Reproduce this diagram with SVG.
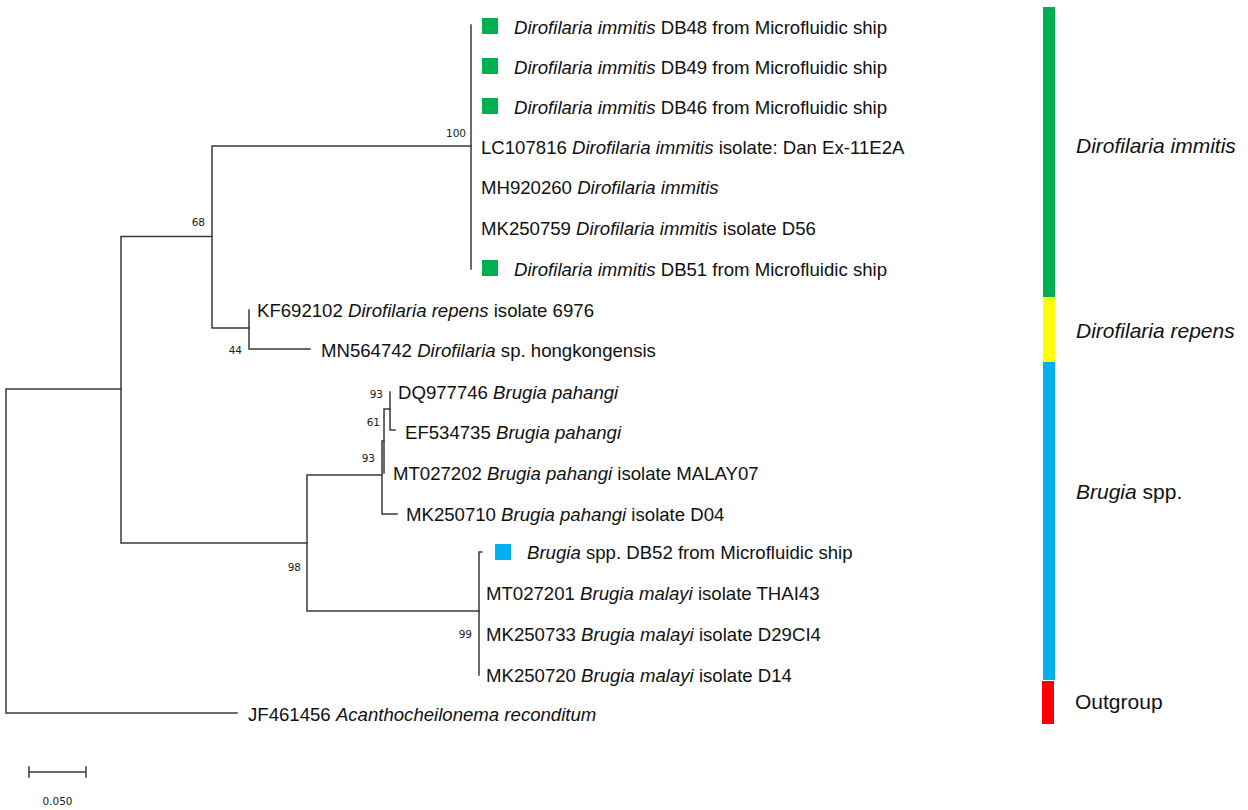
<svg xmlns="http://www.w3.org/2000/svg" width="1248" height="810" viewBox="0 0 1248 810">
<style>
.br{stroke:#3a3a3a;stroke-width:1.5;fill:none;stroke-linecap:square}
.lf{font-family:"Liberation Sans",Arial,sans-serif;font-size:18.6px;fill:#111}
.it{font-style:italic}
.bs{font-family:"DejaVu Sans",Verdana,sans-serif;font-size:10.5px;fill:#222}
.cl{font-family:"Liberation Sans",Arial,sans-serif;font-size:21px;fill:#111}
</style>
<rect width="1248" height="810" fill="#fff"/>
<g id="connectors">
<path class="br" d="M6 389V713M6 389H121M6 713H237"/>
<path class="br" d="M121 236.5V543M121 236.5H212M121 543H307"/>
<path class="br" d="M212 146V328M212 146H471M212 328H249"/>
<path class="br" d="M471 25V269"/>
<path class="br" d="M249 310V349M249 349H310"/>
<path class="br" d="M307 475V611M307 475H382M307 611H479"/>
<path class="br" d="M382 441V514M382 514H397M382 441H384"/>
<path class="br" d="M384 409V473M384 409H390"/>
<path class="br" d="M390 392V430M390 430H395"/>
<path class="br" d="M479 552V675M479 552H482"/>
</g>
<g id="bootstrap">
<text class="bs" x="466" y="137" text-anchor="end">100</text>
<text class="bs" x="205" y="226" text-anchor="end">68</text>
<text class="bs" x="242" y="354" text-anchor="end">44</text>
<text class="bs" x="383" y="398" text-anchor="end">93</text>
<text class="bs" x="380" y="426" text-anchor="end">61</text>
<text class="bs" x="375" y="462" text-anchor="end">93</text>
<text class="bs" x="301" y="571" text-anchor="end">98</text>
<text class="bs" x="472" y="638" text-anchor="end">99</text>
</g>
<g id="leaf-DB48"><rect x="482" y="18" width="16" height="16" fill="#00B050"/><text class="lf" x="514" y="34"><tspan class="it">Dirofilaria immitis</tspan> DB48 from Microfluidic ship</text></g>
<g id="leaf-DB49"><rect x="482" y="58" width="16" height="16" fill="#00B050"/><text class="lf" x="514" y="74"><tspan class="it">Dirofilaria immitis</tspan> DB49 from Microfluidic ship</text></g>
<g id="leaf-DB46"><rect x="482" y="98" width="16" height="16" fill="#00B050"/><text class="lf" x="514" y="114"><tspan class="it">Dirofilaria immitis</tspan> DB46 from Microfluidic ship</text></g>
<g id="leaf-LC107816"><text class="lf" x="481" y="154">LC107816 <tspan class="it">Dirofilaria immitis</tspan> isolate: Dan Ex-11E2A</text></g>
<g id="leaf-MH920260"><text class="lf" x="481" y="194">MH920260 <tspan class="it">Dirofilaria immitis</tspan></text></g>
<g id="leaf-MK250759"><text class="lf" x="481" y="235">MK250759 <tspan class="it">Dirofilaria immitis</tspan> isolate D56</text></g>
<g id="leaf-DB51"><rect x="482" y="260" width="16" height="16" fill="#00B050"/><text class="lf" x="514" y="276"><tspan class="it">Dirofilaria immitis</tspan> DB51 from Microfluidic ship</text></g>
<g id="leaf-KF692102"><text class="lf" x="257" y="317">KF692102 <tspan class="it">Dirofilaria repens</tspan> isolate 6976</text></g>
<g id="leaf-MN564742"><text class="lf" x="321" y="357">MN564742 <tspan class="it">Dirofilaria</tspan> sp. hongkongensis</text></g>
<g id="leaf-DQ977746"><text class="lf" x="398" y="399">DQ977746 <tspan class="it">Brugia pahangi</tspan></text></g>
<g id="leaf-EF534735"><text class="lf" x="405" y="439">EF534735 <tspan class="it">Brugia pahangi</tspan></text></g>
<g id="leaf-MT027202"><text class="lf" x="393" y="480">MT027202 <tspan class="it">Brugia pahangi</tspan> isolate MALAY07</text></g>
<g id="leaf-MK250710"><text class="lf" x="406" y="521">MK250710 <tspan class="it">Brugia pahangi</tspan> isolate D04</text></g>
<g id="leaf-DB52"><rect x="495" y="544" width="16" height="16" fill="#00B0F0"/><text class="lf" x="527" y="559"><tspan class="it">Brugia</tspan> spp. DB52 from Microfluidic ship</text></g>
<g id="leaf-MT027201"><text class="lf" x="486" y="600">MT027201 <tspan class="it">Brugia malayi</tspan> isolate THAI43</text></g>
<g id="leaf-MK250733"><text class="lf" x="486" y="641">MK250733 <tspan class="it">Brugia malayi</tspan> isolate D29CI4</text></g>
<g id="leaf-MK250720"><text class="lf" x="486" y="682">MK250720 <tspan class="it">Brugia malayi</tspan> isolate D14</text></g>
<g id="leaf-JF461456"><text class="lf" x="248" y="721">JF461456 <tspan class="it">Acanthocheilonema reconditum</tspan></text></g>
<g id="groupbar">
<rect x="1043" y="7" width="12" height="290" fill="#00B050"/>
<rect x="1043" y="297" width="12" height="65" fill="#FFFF00"/>
<rect x="1043" y="362" width="12" height="318" fill="#00B0F0"/>
<rect x="1042" y="681" width="12" height="43" fill="#FF0000"/>
</g>
<g id="group-labels">
<text class="cl it" x="1076" y="153">Dirofilaria immitis</text>
<text class="cl it" x="1076" y="338">Dirofilaria repens</text>
<text class="cl" x="1076" y="499"><tspan class="it">Brugia</tspan> spp.</text>
<text class="cl" x="1075" y="709">Outgroup</text>
</g>
<g id="scalebar">
<path class="br" d="M29 772H86M29 767V777M86 767V777"/>
<text class="bs" x="57.5" y="805" text-anchor="middle" font-size="12">0.050</text>
</g>
</svg>
